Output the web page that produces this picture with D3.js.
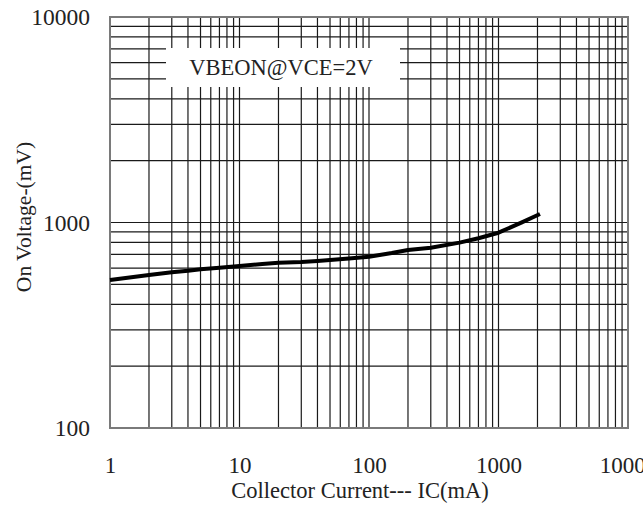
<!DOCTYPE html>
<html>
<head>
<meta charset="utf-8">
<script src="https://cdn.jsdelivr.net/npm/d3@7"></script>
<style>
  html, body { margin: 0; padding: 0; background: #fff; }
  svg { display: block; }
</style>
</head>
<body>
<script>
// ---- data ----
const xTickValues = [1, 10, 100, 1000, 10000];
const xTickLabels = ["1", "10", "100", "1000", "10000"];
const yTickValues = [100, 1000, 10000];
const yTickLabels = ["100", "1000", "10000"];
const icValues = [1, 2, 3, 4, 5, 7, 10, 15, 20, 30, 40, 50, 70, 100, 150, 200, 300, 500, 700, 1000, 1500, 2090];
const vbeValues = [525, 555, 572, 582, 592, 603, 614, 628, 637, 643, 650, 657, 668, 682, 710, 735, 754, 798, 838, 892, 998, 1100];
const annotation = "VBEON@VCE=2V";
const xTitle = "Collector Current--- IC(mA)";
const yTitle = "On Voltage-(mV)";

const FONT = "'Liberation Serif', 'Times New Roman', 'DejaVu Serif', serif";
const W = 643, H = 509;
const pLeft = 110, pRight = 628, pTop = 17, pBottom = 428;

const svg = d3.select("body").append("svg").attr("width", W).attr("height", H);

const x = d3.scaleLog().domain([1, 10000]).range([pLeft, pRight]);
const y = d3.scaleLog().domain([100, 10000]).range([pBottom, pTop]);

// grid values (1..9 per decade)
const xGrid = [];
for (let d = 1; d < 10000; d *= 10) for (let k = 1; k <= 9; k++) xGrid.push(d * k);
const yGrid = [];
for (let d = 100; d < 10000; d *= 10) for (let k = 1; k <= 9; k++) yGrid.push(d * k);

const grid = svg.append("g");
grid.selectAll("line.v").data(xGrid.filter(v => v > 1)).enter().append("line")
  .attr("x1", d => x(d)).attr("x2", d => x(d))
  .attr("y1", pTop).attr("y2", pBottom)
  .attr("stroke", "#1a1a1a").attr("stroke-width", 1.2);
grid.selectAll("line.h").data(yGrid.filter(v => v > 100)).enter().append("line")
  .attr("y1", d => y(d)).attr("y2", d => y(d))
  .attr("x1", pLeft).attr("x2", pRight)
  .attr("stroke", "#1a1a1a").attr("stroke-width", 1.2);

// frame
svg.append("rect").attr("x", pLeft).attr("y", pTop)
  .attr("width", pRight - pLeft).attr("height", pBottom - pTop)
  .attr("fill", "none").attr("stroke", "#7a7a7a").attr("stroke-width", 2);

// annotation box (white, covers grid)
svg.append("rect").attr("x", 166).attr("y", 48).attr("width", 234).attr("height", 39).attr("fill", "#fff");
svg.append("text").attr("x", 281).attr("y", 75).attr("text-anchor", "middle")
  .attr("font-family", FONT).attr("fill", "#222")
  .attr("font-size", 22.5).text(annotation);

// curve
const pts = icValues.map((v, i) => [v, vbeValues[i]]);
svg.append("path").datum(pts)
  .attr("fill", "none").attr("stroke", "#000").attr("stroke-width", 4)
  .attr("stroke-linejoin", "round")
  .attr("d", d3.line().x(d => x(d[0])).y(d => y(d[1])));

// axes
const xAxis = d3.axisBottom(x).tickValues(xTickValues).tickFormat((d, i) => xTickLabels[i]).tickSize(0).tickPadding(0);
const gx = svg.append("g").attr("transform", `translate(0,473)`).call(xAxis);
gx.select(".domain").remove();
gx.attr("font-family", FONT);
gx.selectAll("text").attr("font-size", 23).attr("fill", "#222").attr("y", 0).attr("dy", 0);

const yAxis = d3.axisLeft(y).tickValues(yTickValues).tickFormat((d, i) => yTickLabels[i]).tickSize(0).tickPadding(0);
const gy = svg.append("g").attr("transform", `translate(${pLeft - 20},0)`).call(yAxis);
gy.select(".domain").remove();
gy.attr("font-family", FONT);
gy.selectAll("text").attr("font-size", 23.5).attr("fill", "#222");

// titles
svg.append("text").attr("x", 360).attr("y", 498).attr("text-anchor", "middle")
  .attr("font-family", FONT).attr("fill", "#222")
  .attr("font-size", 22.5).text(xTitle);
svg.append("text").attr("transform", "translate(31,217) rotate(-90)").attr("text-anchor", "middle")
  .attr("font-family", FONT).attr("fill", "#222")
  .attr("font-size", 21.5).text(yTitle);
</script>
</body>
</html>
